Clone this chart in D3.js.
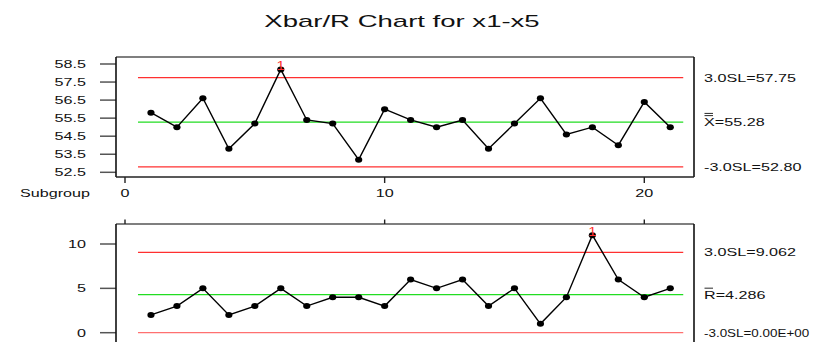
<!DOCTYPE html>
<html>
<head>
<meta charset="utf-8">
<script src="https://cdn.jsdelivr.net/npm/d3@7/dist/d3.min.js"></script>
<style>
  html, body { margin: 0; padding: 0; background: #fff; }
  svg text { font-family: "Liberation Sans", Arial, sans-serif; }
</style>
</head>
<body>
<svg id="chart" width="817" height="342"></svg>
<script>
// Subgroup numbers and the statistics of each subgroup
const subgroups = d3.range(1, 22);
const xbarValues = [55.8, 55.0, 56.6, 53.8, 55.2, 58.2, 55.4, 55.2, 53.2, 56.0, 55.4,
                    55.0, 55.4, 53.8, 55.2, 56.6, 54.6, 55.0, 54.0, 56.4, 55.0];
const rangeValues = [2, 3, 5, 2, 3, 5, 3, 4, 4, 3, 6, 5, 6, 3, 5, 1, 4, 11, 6, 4, 5];

// Control limits
const xbarLimits = { ucl: 57.75, center: 55.28, lcl: 52.80 };
const rLimits = { ucl: 9.062, center: 4.286, lcl: 0 };

// Axis ticks and side labels
const subgroupTicks = [0, 10, 20];
const xbarTicks = [52.5, 53.5, 54.5, 55.5, 56.5, 57.5, 58.5];
const rTicks = [0, 5, 10];
const xbarLabels = ["3.0SL=57.75", "=55.28", "-3.0SL=52.80"];
const rLabels = ["3.0SL=9.062", "=4.286", "-3.0SL=0.00E+00"];
const titleText = "Xbar/R Chart for x1-x5";

const svg = d3.select("#chart");
const SX = 1.47;          // horizontal text stretch
const RED = "#ff3030", GREEN = "#22dd22", INK = "#111";

const x = d3.scaleLinear().domain([0, 20]).range([125, 644.3]);
const yTop = d3.scaleLinear().domain([52.5, 58.5]).range([172.3, 64]);
const yBot = d3.scaleLinear().domain([0, 10]).range([332.7, 244]);

const root = svg.append("g");

function stretchedText(g, tx, ty, str, size, anchor, color, sx) {
  return g.append("text")
    .attr("transform", `translate(${tx},${ty}) scale(${sx || SX},1)`)
    .attr("font-size", size)
    .attr("text-anchor", anchor || "start")
    .style("fill", color || INK)
    .text(str);
}

// Title
root.append("text")
  .attr("transform", `translate(402,27) scale(1.62,1)`)
  .attr("font-size", 17).attr("text-anchor", "middle").style("fill", INK).text(titleText);

function panel(yScale, values, limits, yTicks, labels, frame, barCount) {
  const g = root.append("g");
  const xLo = x(0.5), xHi = x(21.5);

  // y ticks
  yTicks.forEach(t => {
    g.append("line").attr("x1", 100).attr("x2", frame.left)
      .attr("y1", yScale(t)).attr("y2", yScale(t))
      .attr("stroke", "#555").attr("stroke-width", 1.5);
    stretchedText(g, 86, yScale(t) + 4, String(t), 11, "end");
  });

  // control limits and center line
  [limits.ucl, limits.lcl].forEach((v, i) => {
    g.append("line").attr("x1", xLo).attr("x2", xHi)
      .attr("y1", yScale(v)).attr("y2", yScale(v))
      .attr("stroke", i === 1 && barCount === 1 ? "#ff7070" : RED).attr("stroke-width", 1.3);
  });
  g.append("line").attr("x1", xLo).attr("x2", xHi)
    .attr("y1", yScale(limits.center)).attr("y2", yScale(limits.center))
    .attr("stroke", GREEN).attr("stroke-width", 1.2);

  // data line and points
  const line = d3.line().x((d, i) => x(subgroups[i])).y(d => yScale(d));
  g.append("path").datum(values).attr("d", line)
    .attr("fill", "none").attr("stroke", "#000").attr("stroke-width", 1.4);
  g.selectAll("ellipse.pt").data(values).enter().append("ellipse")
    .attr("cx", (d, i) => x(subgroups[i])).attr("cy", d => yScale(d))
    .attr("rx", 3.6).attr("ry", 3).attr("fill", "#000");

  // out-of-control flags
  values.forEach((d, i) => {
    if (d > limits.ucl || d < limits.lcl) {
      stretchedText(g, x(subgroups[i]), yScale(d) + 1, "1", 12, "middle", RED, 1.25);
    }
  });

  // frame
  g.append("line").attr("x1", frame.left).attr("x2", frame.right)
    .attr("y1", frame.top).attr("y2", frame.top).attr("stroke", "#555").attr("stroke-width", 1.6);
  g.append("line").attr("x1", frame.left).attr("x2", frame.left)
    .attr("y1", frame.top).attr("y2", frame.bottom).attr("stroke", "#111").attr("stroke-width", 1.6);
  g.append("line").attr("x1", frame.right).attr("x2", frame.right)
    .attr("y1", frame.top).attr("y2", frame.bottom).attr("stroke", "#111").attr("stroke-width", 1.6);
  g.append("line").attr("x1", frame.left).attr("x2", frame.right)
    .attr("y1", frame.bottom).attr("y2", frame.bottom).attr("stroke", "#222").attr("stroke-width", 1.6);

  // side labels
  const ly = [yScale(limits.ucl), yScale(limits.center), yScale(limits.lcl)];
  stretchedText(g, 704, ly[0] + 4, labels[0], 11, "start");
  // the long lower-limit label is squeezed a little so it stays on the page
  const lowSx = Math.min(SX, 108 / (labels[2].length * 5.9));
  stretchedText(g, 704, ly[2] + 4, labels[2], 11, "start", INK, lowSx);
  const c = g.append("text")
    .attr("transform", `translate(704,${ly[1] + 4}) scale(${SX},1)`)
    .attr("font-size", 11).style("fill", INK);
  c.append("tspan").text(barCount === 2 ? "X" : "R");
  c.append("tspan").text(labels[1]);
  for (let k = 0; k < barCount; k++) {
    g.append("line").attr("x1", 704.5).attr("x2", 713)
      .attr("y1", ly[1] - 6.5 - k * 2.2).attr("y2", ly[1] - 6.5 - k * 2.2)
      .attr("stroke", "#111").attr("stroke-width", 0.9);
  }
  return g;
}

const topFrame = { left: 116, right: 694, top: 57, bottom: 177 };
const botFrame = { left: 116, right: 694, top: 224, bottom: 360 };

panel(yTop, xbarValues, xbarLimits, xbarTicks, xbarLabels, topFrame, 2);
panel(yBot, rangeValues, rLimits, rTicks, rLabels, botFrame, 1);

// subgroup axis: ticks below the upper panel, labels, and ticks above the lower panel
subgroupTicks.forEach(t => {
  root.append("line").attr("x1", x(t)).attr("x2", x(t)).attr("y1", 177).attr("y2", 183)
    .attr("stroke", "#222").attr("stroke-width", 1.4);
  root.append("line").attr("x1", x(t)).attr("x2", x(t)).attr("y1", 219.5).attr("y2", 224)
    .attr("stroke", "#222").attr("stroke-width", 1.4);
  stretchedText(root, x(t), 197, String(t), 11, "middle");
});
stretchedText(root, 20, 197, "Subgroup", 11, "start");
</script>
</body>
</html>
